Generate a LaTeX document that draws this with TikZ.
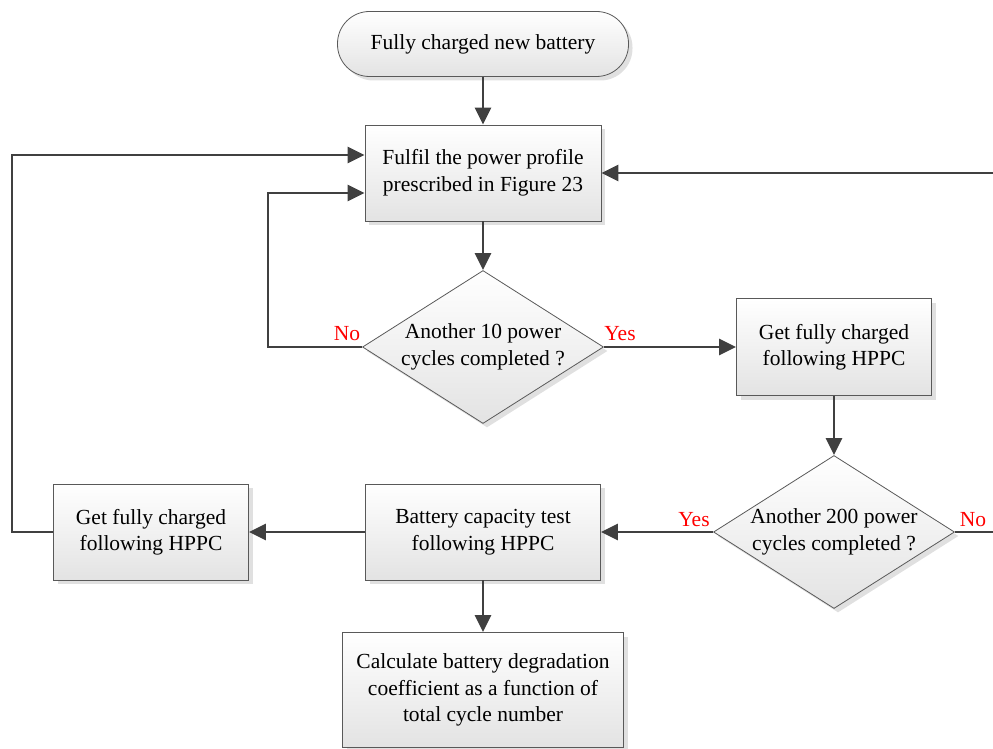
\documentclass[tikz,border=0pt]{standalone}
\usepackage{fontspec}
\setmainfont{Liberation Serif}
\usetikzlibrary{shapes.geometric,shadows,arrows.meta}
\begin{document}
\begin{tikzpicture}[x=1pt,y=-1pt,
  txt/.style={font=\fontsize{21.5}{26.5}\selectfont, align=center},
  box/.style={txt, draw=black!65, line width=0.8pt, top color=white, bottom color=black!11,
    drop shadow={shadow xshift=4pt, shadow yshift=-4pt, fill=black!20, opacity=0.6},
    inner sep=0pt},
  term/.style={box, rounded corners=32pt},
  dia/.style={box, diamond, minimum width=241pt, minimum height=153pt, aspect=1.575},
  line/.style={draw=black!75, line width=2.8pt, line join=miter},
  conn/.style={line, -{Triangle[length=17pt,width=16pt]}},
  lbl/.style={font=\fontsize{21.5}{24}\selectfont, text=red, inner sep=0pt}
]
\useasboundingbox (0,0) rectangle (993,749);

\node[term, minimum width=291pt, minimum height=65pt] (start) at (483,44) {Fully charged new battery};
\node[box, minimum width=236pt, minimum height=96pt] (fulfil) at (483,173) {Fulfil the power profile\\prescribed in Figure 23};
\node[dia] (d1) at (483,347) {Another 10 power\\cycles completed ?};
\node[box, minimum width=195pt, minimum height=97pt] (charge1) at (834,347) {Get fully charged\\following HPPC};
\node[dia] (d2) at (834,532) {Another 200 power\\cycles completed ?};
\node[box, minimum width=235pt, minimum height=96pt] (cap) at (483,532) {Battery capacity test\\following HPPC};
\node[box, minimum width=195pt, minimum height=96pt] (charge2) at (151,532) {Get fully charged\\following HPPC};
\node[box, minimum width=281pt, minimum height=115pt] (calc) at (483,690) {Calculate battery degradation\\coefficient as a function of\\total cycle number};

\coordinate (l1) at (268,193);
\coordinate (l2) at (12,155);
\coordinate (r1) at (993,532);
\coordinate (r2) at (993,173);

\draw[conn] (start) -- (fulfil);
\draw[conn] (fulfil) -- (d1);
\draw[conn] (d1.west) -| (l1) -- (fulfil.west |- l1);
\draw[conn] (d1.east) -- (charge1.west);
\draw[conn] (charge1) -- (d2);
\draw[conn] (d2.west) -- (cap.east);
\draw[conn] (cap.west) -- (charge2.east);
\draw[conn] (charge2.west) -| (l2) -- (fulfil.west |- l2);
\draw[conn] (cap) -- (calc);
\draw[line] (d2.east) -- (r1);
\draw[conn] (r2) -- (fulfil.east);

\node[lbl] (no1) at (347,334) {No};
\node[lbl] (yes1) at (620,334) {Yes};
\node[lbl] (yes2) at (694,520) {Yes};
\node[lbl] (no2) at (973,520) {No};
\end{tikzpicture}
\end{document}
